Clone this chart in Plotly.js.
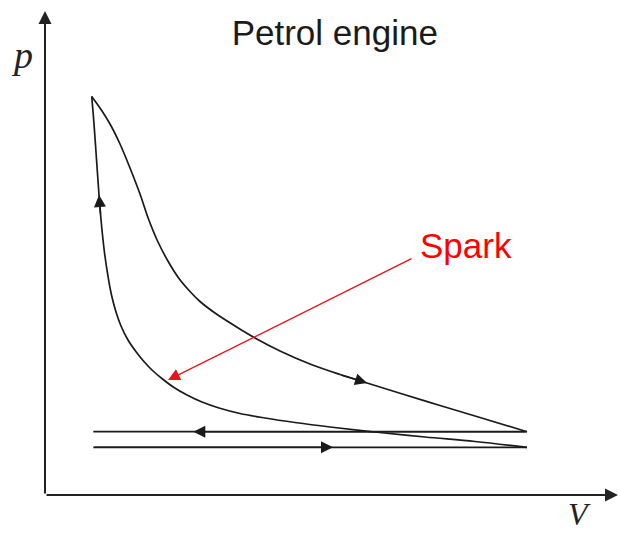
<!DOCTYPE html>
<html>
<head>
<meta charset="utf-8">
<script src="https://cdn.plot.ly/plotly-3.0.1.min.js"></script>
<style>html,body{margin:0;padding:0;background:#fff;}#chart{width:620px;height:534px;}</style>
</head>
<body>
<div id="chart"></div>
<script>
// Schematic p-V diagram of a petrol (Otto) engine, arbitrary units
const expansionV = [45.7, 54, 64, 74, 84, 94, 102.5, 112, 122.5, 133, 144, 154, 169, 189, 209, 234, 264, 294, 321, 354, 394, 434, 481];
const expansionP = [397.6, 386, 370, 350, 326, 300, 275, 252, 232, 215.5, 202.5, 192.5, 181, 168, 156, 143, 130, 119.5, 111, 100.7, 88.5, 76.5, 62.3];
const compressionV = [481, 429, 379, 329, 284, 249, 219, 194, 173, 156, 141, 128, 116.5, 106.5, 97.5, 89.5, 82, 75, 70, 65.5, 61.8, 58.8, 56.5, 54.6, 53, 51.6, 50.2, 48.8, 47.3, 45.7];
const compressionP = [46.7, 52.5, 57, 62, 67, 71.5, 76, 80.5, 86, 92, 99, 106.5, 115, 123.5, 133, 143, 154, 168, 182, 199, 219, 239, 259, 279, 299, 319, 339, 359, 379, 397.6];
const exhaustV = [481, 147.3, 47.3];
const exhaustP = [62.3, 62.3, 62.3];
const intakeV = [47.3, 287, 481];
const intakeP = [46.7, 46.7, 46.7];
// index of the point on each path where a direction arrow sits
const arrowIndex = {expansion: 18, compression: 24, exhaust: 1, intake: 1};
// spark pointer: label and the point on the compression curve it points to
const sparkLabel = 'Spark';
const sparkTip = [122, 114];
const sparkTail = [367, 236];
const titleText = 'Petrol engine';
const xLabel = 'V';
const yLabel = 'p';

const lineColor = '#1a1a1a';
const paths = [
  {name: 'expansion', v: expansionV, p: expansionP, shape: 'spline'},
  {name: 'compression', v: compressionV, p: compressionP, shape: 'spline'},
  {name: 'exhaust', v: exhaustV, p: exhaustP, shape: 'linear'},
  {name: 'intake', v: intakeV, p: intakeP, shape: 'linear'}
];

const traces = paths.map(path => ({
  type: 'scatter', mode: 'lines', x: path.v, y: path.p,
  line: {color: lineColor, width: 1.7, shape: path.shape, smoothing: 1},
  hoverinfo: 'skip'
}));

const annotations = [];
paths.forEach(path => {
  const k = arrowIndex[path.name];
  annotations.push({
    x: path.v[k], y: path.p[k], ax: path.v[k - 1], ay: path.p[k - 1],
    xref: 'x', yref: 'y', axref: 'x', ayref: 'y', text: '',
    showarrow: true, arrowhead: 2, arrowsize: 1.5, arrowwidth: 1.6, arrowcolor: lineColor
  });
});
// axes with arrowheads
annotations.push({x: 572, y: -1, ax: -1, ay: -1, xref: 'x', yref: 'y', axref: 'x', ayref: 'y', text: '',
  showarrow: true, arrowhead: 2, arrowsize: 1.3, arrowwidth: 2, arrowcolor: '#222'});
annotations.push({x: -1, y: 483, ax: -1, ay: -1, xref: 'x', yref: 'y', axref: 'x', ayref: 'y', text: '',
  showarrow: true, arrowhead: 2, arrowsize: 1.3, arrowwidth: 2, arrowcolor: '#222'});
// axis labels
annotations.push({x: -24.5, y: 439, xref: 'x', yref: 'y', text: yLabel, showarrow: false,
  xanchor: 'center', yanchor: 'middle', font: {family: 'Liberation Serif, Times New Roman, serif', size: 38, color: '#222', style: 'italic'}});
annotations.push({x: 533, y: -20, xref: 'x', yref: 'y', text: xLabel, showarrow: false,
  xanchor: 'center', yanchor: 'middle', font: {family: 'Liberation Serif, Times New Roman, serif', size: 32, color: '#222', style: 'italic'}});
// spark pointer
annotations.push({x: sparkTip[0], y: sparkTip[1], ax: sparkTail[0], ay: sparkTail[1], xref: 'x', yref: 'y', axref: 'x', ayref: 'y',
  text: '', showarrow: true, arrowhead: 2, arrowsize: 1.7, arrowwidth: 1.4, arrowcolor: '#e8141c'});
annotations.push({x: 372, y: 249, xref: 'x', yref: 'y', text: sparkLabel, showarrow: false,
  xanchor: 'left', yanchor: 'middle', font: {family: 'Liberation Sans, Arial, sans-serif', size: 35, color: '#ff0000'}});

const layout = {
  width: 620, height: 534,
  margin: {l: 0, r: 0, t: 0, b: 0},
  paper_bgcolor: '#ffffff', plot_bgcolor: '#ffffff',
  showlegend: false,
  title: {text: titleText, x: 0.54, xanchor: 'center', y: 0.939, yanchor: 'middle',
    font: {family: 'Liberation Sans, Arial, sans-serif', size: 35, color: '#1a1a1a'}},
  xaxis: {range: [-46, 574], visible: false, fixedrange: true},
  yaxis: {range: [-40, 494], visible: false, fixedrange: true},
  annotations: annotations
};

Plotly.newPlot('chart', traces, layout, {displayModeBar: false, staticPlot: true});
</script>
</body>
</html>
